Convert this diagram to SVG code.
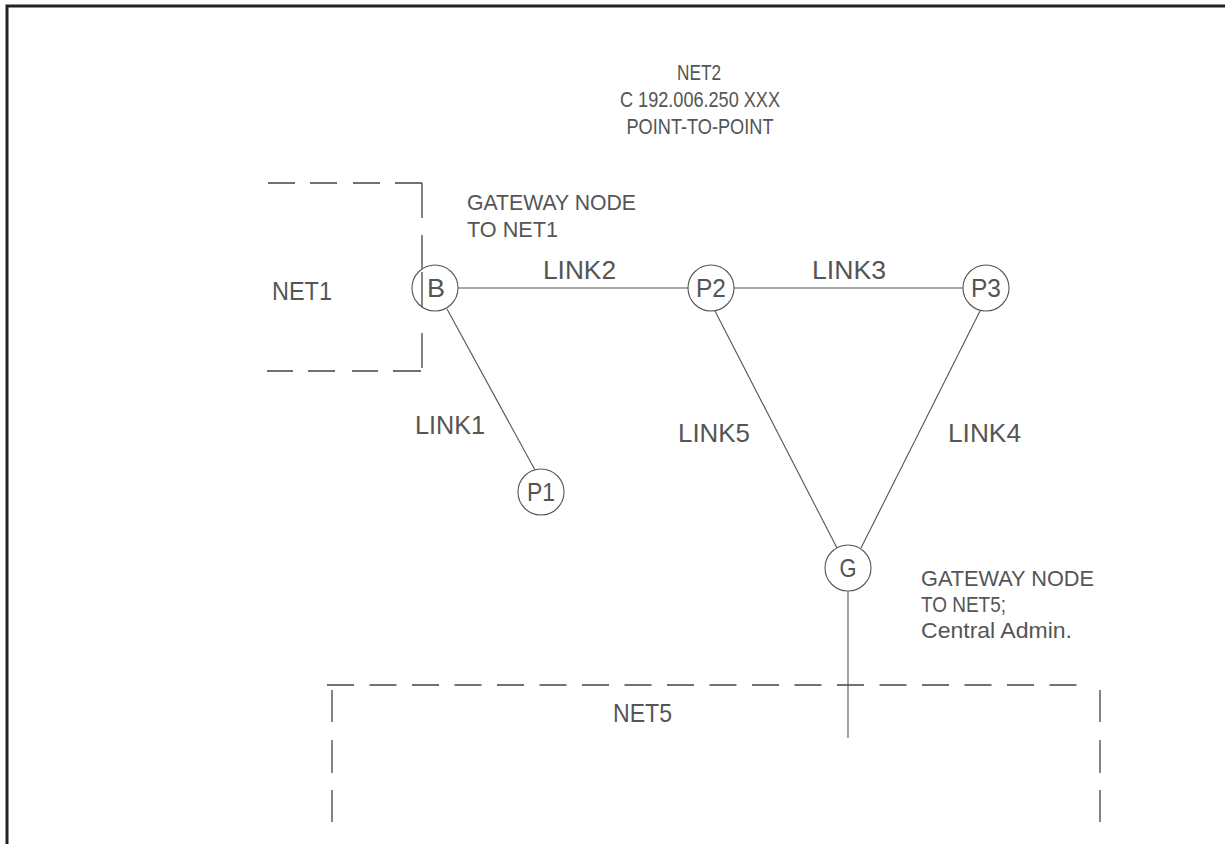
<svg xmlns="http://www.w3.org/2000/svg" width="1225" height="844" viewBox="0 0 1225 844">
<style>
  .frame{stroke:#222;stroke-width:3;fill:none}
  .node{fill:#fff;stroke:#555;stroke-width:1.1}
  .link{stroke:#555;stroke-width:1.1;fill:none}
  .dash{stroke:#444;stroke-width:1.3;fill:none}
  text{font-family:"Liberation Sans",Arial,sans-serif;font-size:25px;fill:#555}
  .s{font-size:22.5px}
  .c{text-anchor:middle}
</style>
<rect width="1225" height="844" fill="#fff"/>
<path class="frame" d="M7,844 V6 H1225"/>

<g id="net1-box">
  <path class="dash" d="M268,183H295M310,183H337M353,183H380M395,183H422M422,183V218M422,235V307M422,333V368M267,371H293M308,371H335M352,371H378M393,371H421"/>
  <text x="272" y="300" textLength="60" lengthAdjust="spacingAndGlyphs">NET1</text>
</g>

<g id="net5-box">
  <path class="dash" d="M327,685H1092" stroke-dasharray="27 15.5"/>
  <path class="dash" d="M332,690V722M332,740V773M332,790V822M1100,690V722M1100,740V773M1100,790V822"/>
  <text x="613" y="722" textLength="59" lengthAdjust="spacingAndGlyphs">NET5</text>
</g>

<g id="connectors">
  <line class="link" x1="458" y1="288" x2="688" y2="288"/>
  <line class="link" x1="734" y1="288" x2="963" y2="288"/>
  <line class="link" x1="447" y1="309" x2="535" y2="470"/>
  <line class="link" x1="715" y1="311" x2="837" y2="548"/>
  <line class="link" x1="980" y1="311" x2="861" y2="548"/>
  <line class="link" x1="848" y1="591" x2="848" y2="738"/>
  <text x="543" y="279" textLength="73" lengthAdjust="spacingAndGlyphs">LINK2</text>
  <text x="812" y="279" textLength="74" lengthAdjust="spacingAndGlyphs">LINK3</text>
  <text x="415" y="434" textLength="70" lengthAdjust="spacingAndGlyphs">LINK1</text>
  <text x="678" y="442" textLength="72" lengthAdjust="spacingAndGlyphs">LINK5</text>
  <text x="948" y="442" textLength="73" lengthAdjust="spacingAndGlyphs">LINK4</text>
</g>

<g id="net2-label">
  <text class="c s" x="699" y="80" textLength="44" lengthAdjust="spacingAndGlyphs">NET2</text>
  <text class="c s" x="700" y="107" textLength="160" lengthAdjust="spacingAndGlyphs">C 192.006.250 XXX</text>
  <text class="c s" x="700" y="134" textLength="147" lengthAdjust="spacingAndGlyphs">POINT-TO-POINT</text>
</g>

<g id="gateway1-label">
  <text class="s" x="467" y="210" textLength="169" lengthAdjust="spacingAndGlyphs">GATEWAY NODE</text>
  <text class="s" x="467" y="237" textLength="91" lengthAdjust="spacingAndGlyphs">TO NET1</text>
</g>

<g id="gateway5-label">
  <text class="s" x="921" y="586" textLength="173" lengthAdjust="spacingAndGlyphs">GATEWAY NODE</text>
  <text class="s" x="921" y="612" textLength="85" lengthAdjust="spacingAndGlyphs">TO NET5;</text>
  <text class="s" x="921" y="638" textLength="151" lengthAdjust="spacingAndGlyphs">Central Admin.</text>
</g>

<g id="node-B">
  <circle class="node" cx="435" cy="288" r="23"/>
  <path class="dash" d="M422,272V307"/>
  <text class="c" x="436" y="297" textLength="18" lengthAdjust="spacingAndGlyphs">B</text>
</g>
<g id="node-P2">
  <circle class="node" cx="711" cy="288" r="23"/>
  <text class="c" x="711" y="297" textLength="30" lengthAdjust="spacingAndGlyphs">P2</text>
</g>
<g id="node-P3">
  <circle class="node" cx="986" cy="288" r="23"/>
  <text class="c" x="986" y="297" textLength="30" lengthAdjust="spacingAndGlyphs">P3</text>
</g>
<g id="node-P1">
  <circle class="node" cx="541" cy="492" r="23"/>
  <text class="c" x="541" y="501" textLength="28" lengthAdjust="spacingAndGlyphs">P1</text>
</g>
<g id="node-G">
  <circle class="node" cx="848" cy="568" r="23"/>
  <text class="c" x="848" y="577" textLength="17" lengthAdjust="spacingAndGlyphs">G</text>
</g>
</svg>
